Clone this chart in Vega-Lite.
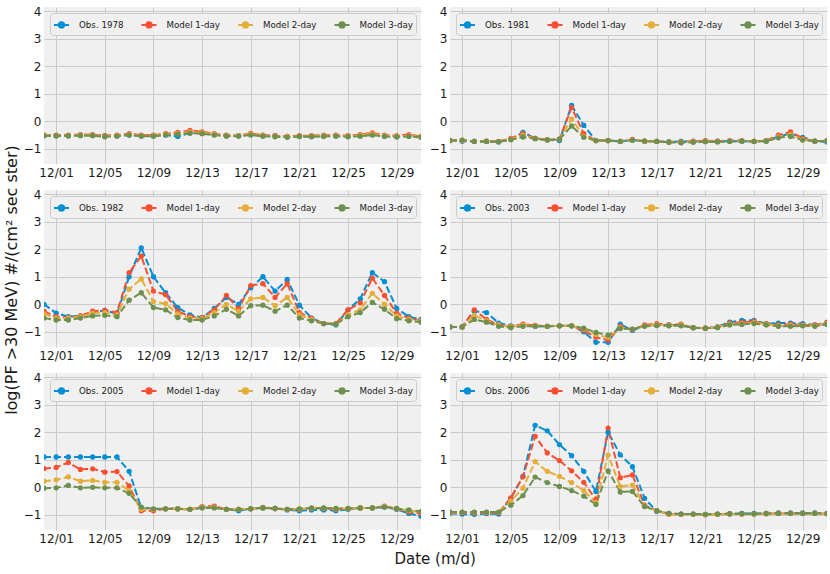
{
  "$schema": "https://vega.github.io/schema/vega-lite/v6.json",
  "background": "white",
  "padding": {"left": 4, "top": 5, "right": 3, "bottom": 5},
  "title": {"text": "log(PF >30 MeV)  #/(cm² sec ster)", "orient": "left", "anchor": "middle", "offset": 3, "fontSize": 16, "dx": 6},
  "data": {"values": [
    {"yr":1978,"date":"2000-11-30","Obs":-0.52,"Model 1-day":-0.5,"Model 2-day":-0.5,"Model 3-day":-0.52},
    {"yr":1978,"date":"2000-12-01","Obs":-0.52,"Model 1-day":-0.5,"Model 2-day":-0.52,"Model 3-day":-0.53},
    {"yr":1978,"date":"2000-12-02","Obs":-0.52,"Model 1-day":-0.5,"Model 2-day":-0.52,"Model 3-day":-0.53},
    {"yr":1978,"date":"2000-12-03","Obs":-0.5,"Model 1-day":-0.48,"Model 2-day":-0.5,"Model 3-day":-0.52},
    {"yr":1978,"date":"2000-12-04","Obs":-0.5,"Model 1-day":-0.48,"Model 2-day":-0.5,"Model 3-day":-0.52},
    {"yr":1978,"date":"2000-12-05","Obs":-0.52,"Model 1-day":-0.52,"Model 2-day":-0.54,"Model 3-day":-0.56},
    {"yr":1978,"date":"2000-12-06","Obs":-0.52,"Model 1-day":-0.5,"Model 2-day":-0.52,"Model 3-day":-0.54},
    {"yr":1978,"date":"2000-12-07","Obs":-0.5,"Model 1-day":-0.45,"Model 2-day":-0.48,"Model 3-day":-0.5},
    {"yr":1978,"date":"2000-12-08","Obs":-0.52,"Model 1-day":-0.5,"Model 2-day":-0.52,"Model 3-day":-0.54},
    {"yr":1978,"date":"2000-12-09","Obs":-0.52,"Model 1-day":-0.5,"Model 2-day":-0.52,"Model 3-day":-0.54},
    {"yr":1978,"date":"2000-12-10","Obs":-0.5,"Model 1-day":-0.45,"Model 2-day":-0.48,"Model 3-day":-0.5},
    {"yr":1978,"date":"2000-12-11","Obs":-0.55,"Model 1-day":-0.4,"Model 2-day":-0.44,"Model 3-day":-0.47},
    {"yr":1978,"date":"2000-12-12","Obs":-0.42,"Model 1-day":-0.33,"Model 2-day":-0.38,"Model 3-day":-0.43},
    {"yr":1978,"date":"2000-12-13","Obs":-0.42,"Model 1-day":-0.38,"Model 2-day":-0.42,"Model 3-day":-0.45},
    {"yr":1978,"date":"2000-12-14","Obs":-0.48,"Model 1-day":-0.45,"Model 2-day":-0.47,"Model 3-day":-0.5},
    {"yr":1978,"date":"2000-12-15","Obs":-0.52,"Model 1-day":-0.5,"Model 2-day":-0.52,"Model 3-day":-0.54},
    {"yr":1978,"date":"2000-12-16","Obs":-0.52,"Model 1-day":-0.52,"Model 2-day":-0.52,"Model 3-day":-0.54},
    {"yr":1978,"date":"2000-12-17","Obs":-0.48,"Model 1-day":-0.44,"Model 2-day":-0.47,"Model 3-day":-0.5},
    {"yr":1978,"date":"2000-12-18","Obs":-0.52,"Model 1-day":-0.5,"Model 2-day":-0.52,"Model 3-day":-0.54},
    {"yr":1978,"date":"2000-12-19","Obs":-0.52,"Model 1-day":-0.52,"Model 2-day":-0.54,"Model 3-day":-0.56},
    {"yr":1978,"date":"2000-12-20","Obs":-0.55,"Model 1-day":-0.55,"Model 2-day":-0.56,"Model 3-day":-0.58},
    {"yr":1978,"date":"2000-12-21","Obs":-0.55,"Model 1-day":-0.52,"Model 2-day":-0.54,"Model 3-day":-0.55},
    {"yr":1978,"date":"2000-12-22","Obs":-0.55,"Model 1-day":-0.52,"Model 2-day":-0.54,"Model 3-day":-0.56},
    {"yr":1978,"date":"2000-12-23","Obs":-0.52,"Model 1-day":-0.5,"Model 2-day":-0.52,"Model 3-day":-0.55},
    {"yr":1978,"date":"2000-12-24","Obs":-0.52,"Model 1-day":-0.5,"Model 2-day":-0.52,"Model 3-day":-0.54},
    {"yr":1978,"date":"2000-12-25","Obs":-0.55,"Model 1-day":-0.52,"Model 2-day":-0.54,"Model 3-day":-0.56},
    {"yr":1978,"date":"2000-12-26","Obs":-0.52,"Model 1-day":-0.48,"Model 2-day":-0.5,"Model 3-day":-0.54},
    {"yr":1978,"date":"2000-12-27","Obs":-0.48,"Model 1-day":-0.42,"Model 2-day":-0.46,"Model 3-day":-0.5},
    {"yr":1978,"date":"2000-12-28","Obs":-0.52,"Model 1-day":-0.5,"Model 2-day":-0.52,"Model 3-day":-0.55},
    {"yr":1978,"date":"2000-12-29","Obs":-0.55,"Model 1-day":-0.52,"Model 2-day":-0.54,"Model 3-day":-0.57},
    {"yr":1978,"date":"2000-12-30","Obs":-0.52,"Model 1-day":-0.48,"Model 2-day":-0.52,"Model 3-day":-0.55},
    {"yr":1978,"date":"2000-12-31","Obs":-0.55,"Model 1-day":-0.55,"Model 2-day":-0.56,"Model 3-day":-0.58},
    {"yr":1981,"date":"2000-11-30","Obs":-0.7,"Model 1-day":-0.7,"Model 2-day":-0.7,"Model 3-day":-0.7},
    {"yr":1981,"date":"2000-12-01","Obs":-0.72,"Model 1-day":-0.7,"Model 2-day":-0.69,"Model 3-day":-0.68},
    {"yr":1981,"date":"2000-12-02","Obs":-0.73,"Model 1-day":-0.73,"Model 2-day":-0.73,"Model 3-day":-0.73},
    {"yr":1981,"date":"2000-12-03","Obs":-0.73,"Model 1-day":-0.72,"Model 2-day":-0.73,"Model 3-day":-0.73},
    {"yr":1981,"date":"2000-12-04","Obs":-0.75,"Model 1-day":-0.73,"Model 2-day":-0.74,"Model 3-day":-0.74},
    {"yr":1981,"date":"2000-12-05","Obs":-0.65,"Model 1-day":-0.62,"Model 2-day":-0.65,"Model 3-day":-0.67},
    {"yr":1981,"date":"2000-12-06","Obs":-0.4,"Model 1-day":-0.45,"Model 2-day":-0.5,"Model 3-day":-0.57},
    {"yr":1981,"date":"2000-12-07","Obs":-0.62,"Model 1-day":-0.62,"Model 2-day":-0.63,"Model 3-day":-0.63},
    {"yr":1981,"date":"2000-12-08","Obs":-0.67,"Model 1-day":-0.67,"Model 2-day":-0.68,"Model 3-day":-0.68},
    {"yr":1981,"date":"2000-12-09","Obs":-0.7,"Model 1-day":-0.65,"Model 2-day":-0.65,"Model 3-day":-0.65},
    {"yr":1981,"date":"2000-12-10","Obs":0.58,"Model 1-day":0.5,"Model 2-day":0.08,"Model 3-day":-0.17},
    {"yr":1981,"date":"2000-12-11","Obs":-0.15,"Model 1-day":-0.45,"Model 2-day":-0.55,"Model 3-day":-0.58},
    {"yr":1981,"date":"2000-12-12","Obs":-0.7,"Model 1-day":-0.7,"Model 2-day":-0.7,"Model 3-day":-0.7},
    {"yr":1981,"date":"2000-12-13","Obs":-0.7,"Model 1-day":-0.7,"Model 2-day":-0.7,"Model 3-day":-0.7},
    {"yr":1981,"date":"2000-12-14","Obs":-0.73,"Model 1-day":-0.73,"Model 2-day":-0.73,"Model 3-day":-0.73},
    {"yr":1981,"date":"2000-12-15","Obs":-0.68,"Model 1-day":-0.66,"Model 2-day":-0.68,"Model 3-day":-0.69},
    {"yr":1981,"date":"2000-12-16","Obs":-0.72,"Model 1-day":-0.72,"Model 2-day":-0.72,"Model 3-day":-0.72},
    {"yr":1981,"date":"2000-12-17","Obs":-0.73,"Model 1-day":-0.73,"Model 2-day":-0.73,"Model 3-day":-0.73},
    {"yr":1981,"date":"2000-12-18","Obs":-0.75,"Model 1-day":-0.75,"Model 2-day":-0.76,"Model 3-day":-0.76},
    {"yr":1981,"date":"2000-12-19","Obs":-0.73,"Model 1-day":-0.75,"Model 2-day":-0.77,"Model 3-day":-0.78},
    {"yr":1981,"date":"2000-12-20","Obs":-0.73,"Model 1-day":-0.72,"Model 2-day":-0.74,"Model 3-day":-0.76},
    {"yr":1981,"date":"2000-12-21","Obs":-0.72,"Model 1-day":-0.7,"Model 2-day":-0.73,"Model 3-day":-0.74},
    {"yr":1981,"date":"2000-12-22","Obs":-0.72,"Model 1-day":-0.72,"Model 2-day":-0.74,"Model 3-day":-0.75},
    {"yr":1981,"date":"2000-12-23","Obs":-0.72,"Model 1-day":-0.7,"Model 2-day":-0.72,"Model 3-day":-0.73},
    {"yr":1981,"date":"2000-12-24","Obs":-0.72,"Model 1-day":-0.7,"Model 2-day":-0.72,"Model 3-day":-0.72},
    {"yr":1981,"date":"2000-12-25","Obs":-0.73,"Model 1-day":-0.73,"Model 2-day":-0.73,"Model 3-day":-0.73},
    {"yr":1981,"date":"2000-12-26","Obs":-0.72,"Model 1-day":-0.7,"Model 2-day":-0.71,"Model 3-day":-0.72},
    {"yr":1981,"date":"2000-12-27","Obs":-0.55,"Model 1-day":-0.5,"Model 2-day":-0.57,"Model 3-day":-0.6},
    {"yr":1981,"date":"2000-12-28","Obs":-0.45,"Model 1-day":-0.38,"Model 2-day":-0.48,"Model 3-day":-0.55},
    {"yr":1981,"date":"2000-12-29","Obs":-0.58,"Model 1-day":-0.62,"Model 2-day":-0.66,"Model 3-day":-0.68},
    {"yr":1981,"date":"2000-12-30","Obs":-0.72,"Model 1-day":-0.72,"Model 2-day":-0.72,"Model 3-day":-0.72},
    {"yr":1981,"date":"2000-12-31","Obs":-0.75,"Model 1-day":-0.7,"Model 2-day":-0.71,"Model 3-day":-0.71},
    {"yr":1982,"date":"2000-11-30","Obs":0.0,"Model 1-day":-0.25,"Model 2-day":-0.35,"Model 3-day":-0.5},
    {"yr":1982,"date":"2000-12-01","Obs":-0.32,"Model 1-day":-0.45,"Model 2-day":-0.5,"Model 3-day":-0.57},
    {"yr":1982,"date":"2000-12-02","Obs":-0.45,"Model 1-day":-0.48,"Model 2-day":-0.5,"Model 3-day":-0.57},
    {"yr":1982,"date":"2000-12-03","Obs":-0.42,"Model 1-day":-0.42,"Model 2-day":-0.45,"Model 3-day":-0.5},
    {"yr":1982,"date":"2000-12-04","Obs":-0.3,"Model 1-day":-0.25,"Model 2-day":-0.32,"Model 3-day":-0.42},
    {"yr":1982,"date":"2000-12-05","Obs":-0.22,"Model 1-day":-0.22,"Model 2-day":-0.3,"Model 3-day":-0.4},
    {"yr":1982,"date":"2000-12-06","Obs":-0.35,"Model 1-day":-0.3,"Model 2-day":-0.38,"Model 3-day":-0.45},
    {"yr":1982,"date":"2000-12-07","Obs":1.0,"Model 1-day":1.15,"Model 2-day":0.55,"Model 3-day":0.15},
    {"yr":1982,"date":"2000-12-08","Obs":2.05,"Model 1-day":1.75,"Model 2-day":0.92,"Model 3-day":0.42},
    {"yr":1982,"date":"2000-12-09","Obs":1.0,"Model 1-day":0.48,"Model 2-day":0.1,"Model 3-day":-0.12},
    {"yr":1982,"date":"2000-12-10","Obs":0.42,"Model 1-day":0.35,"Model 2-day":0.02,"Model 3-day":-0.2},
    {"yr":1982,"date":"2000-12-11","Obs":-0.12,"Model 1-day":-0.25,"Model 2-day":-0.35,"Model 3-day":-0.48},
    {"yr":1982,"date":"2000-12-12","Obs":-0.38,"Model 1-day":-0.45,"Model 2-day":-0.5,"Model 3-day":-0.57},
    {"yr":1982,"date":"2000-12-13","Obs":-0.48,"Model 1-day":-0.48,"Model 2-day":-0.52,"Model 3-day":-0.57},
    {"yr":1982,"date":"2000-12-14","Obs":-0.15,"Model 1-day":-0.2,"Model 2-day":-0.3,"Model 3-day":-0.42},
    {"yr":1982,"date":"2000-12-15","Obs":0.25,"Model 1-day":0.32,"Model 2-day":0.0,"Model 3-day":-0.18},
    {"yr":1982,"date":"2000-12-16","Obs":0.0,"Model 1-day":-0.15,"Model 2-day":-0.25,"Model 3-day":-0.42},
    {"yr":1982,"date":"2000-12-17","Obs":0.6,"Model 1-day":0.68,"Model 2-day":0.2,"Model 3-day":-0.05},
    {"yr":1982,"date":"2000-12-18","Obs":1.0,"Model 1-day":0.75,"Model 2-day":0.25,"Model 3-day":-0.03},
    {"yr":1982,"date":"2000-12-19","Obs":0.48,"Model 1-day":0.25,"Model 2-day":-0.05,"Model 3-day":-0.25},
    {"yr":1982,"date":"2000-12-20","Obs":0.9,"Model 1-day":0.75,"Model 2-day":0.25,"Model 3-day":-0.03},
    {"yr":1982,"date":"2000-12-21","Obs":-0.03,"Model 1-day":-0.3,"Model 2-day":-0.38,"Model 3-day":-0.5},
    {"yr":1982,"date":"2000-12-22","Obs":-0.5,"Model 1-day":-0.5,"Model 2-day":-0.55,"Model 3-day":-0.6},
    {"yr":1982,"date":"2000-12-23","Obs":-0.7,"Model 1-day":-0.7,"Model 2-day":-0.7,"Model 3-day":-0.7},
    {"yr":1982,"date":"2000-12-24","Obs":-0.75,"Model 1-day":-0.7,"Model 2-day":-0.72,"Model 3-day":-0.72},
    {"yr":1982,"date":"2000-12-25","Obs":-0.2,"Model 1-day":-0.2,"Model 2-day":-0.38,"Model 3-day":-0.45},
    {"yr":1982,"date":"2000-12-26","Obs":0.2,"Model 1-day":0.05,"Model 2-day":-0.2,"Model 3-day":-0.3},
    {"yr":1982,"date":"2000-12-27","Obs":1.15,"Model 1-day":0.95,"Model 2-day":0.4,"Model 3-day":0.07},
    {"yr":1982,"date":"2000-12-28","Obs":0.82,"Model 1-day":0.32,"Model 2-day":0.0,"Model 3-day":-0.18},
    {"yr":1982,"date":"2000-12-29","Obs":-0.15,"Model 1-day":-0.32,"Model 2-day":-0.42,"Model 3-day":-0.52},
    {"yr":1982,"date":"2000-12-30","Obs":-0.45,"Model 1-day":-0.5,"Model 2-day":-0.55,"Model 3-day":-0.6},
    {"yr":1982,"date":"2000-12-31","Obs":-0.55,"Model 1-day":-0.6,"Model 2-day":-0.62,"Model 3-day":-0.65},
    {"yr":2003,"date":"2000-11-30","Obs":-0.82,"Model 1-day":-0.82,"Model 2-day":-0.82,"Model 3-day":-0.82},
    {"yr":2003,"date":"2000-12-01","Obs":-0.82,"Model 1-day":-0.82,"Model 2-day":-0.82,"Model 3-day":-0.82},
    {"yr":2003,"date":"2000-12-02","Obs":-0.25,"Model 1-day":-0.2,"Model 2-day":-0.4,"Model 3-day":-0.55},
    {"yr":2003,"date":"2000-12-03","Obs":-0.3,"Model 1-day":-0.55,"Model 2-day":-0.6,"Model 3-day":-0.65},
    {"yr":2003,"date":"2000-12-04","Obs":-0.68,"Model 1-day":-0.75,"Model 2-day":-0.75,"Model 3-day":-0.8},
    {"yr":2003,"date":"2000-12-05","Obs":-0.78,"Model 1-day":-0.8,"Model 2-day":-0.82,"Model 3-day":-0.85},
    {"yr":2003,"date":"2000-12-06","Obs":-0.78,"Model 1-day":-0.72,"Model 2-day":-0.76,"Model 3-day":-0.8},
    {"yr":2003,"date":"2000-12-07","Obs":-0.8,"Model 1-day":-0.77,"Model 2-day":-0.78,"Model 3-day":-0.8},
    {"yr":2003,"date":"2000-12-08","Obs":-0.8,"Model 1-day":-0.8,"Model 2-day":-0.8,"Model 3-day":-0.8},
    {"yr":2003,"date":"2000-12-09","Obs":-0.78,"Model 1-day":-0.78,"Model 2-day":-0.78,"Model 3-day":-0.78},
    {"yr":2003,"date":"2000-12-10","Obs":-0.78,"Model 1-day":-0.78,"Model 2-day":-0.78,"Model 3-day":-0.78},
    {"yr":2003,"date":"2000-12-11","Obs":-1.0,"Model 1-day":-0.95,"Model 2-day":-0.9,"Model 3-day":-0.87},
    {"yr":2003,"date":"2000-12-12","Obs":-1.38,"Model 1-day":-1.2,"Model 2-day":-1.1,"Model 3-day":-1.02},
    {"yr":2003,"date":"2000-12-13","Obs":-1.38,"Model 1-day":-1.3,"Model 2-day":-1.2,"Model 3-day":-1.12},
    {"yr":2003,"date":"2000-12-14","Obs":-0.72,"Model 1-day":-0.8,"Model 2-day":-0.85,"Model 3-day":-0.88},
    {"yr":2003,"date":"2000-12-15","Obs":-0.95,"Model 1-day":-0.92,"Model 2-day":-0.9,"Model 3-day":-0.9},
    {"yr":2003,"date":"2000-12-16","Obs":-0.77,"Model 1-day":-0.75,"Model 2-day":-0.78,"Model 3-day":-0.8},
    {"yr":2003,"date":"2000-12-17","Obs":-0.75,"Model 1-day":-0.7,"Model 2-day":-0.74,"Model 3-day":-0.77},
    {"yr":2003,"date":"2000-12-18","Obs":-0.75,"Model 1-day":-0.75,"Model 2-day":-0.77,"Model 3-day":-0.78},
    {"yr":2003,"date":"2000-12-19","Obs":-0.75,"Model 1-day":-0.72,"Model 2-day":-0.75,"Model 3-day":-0.78},
    {"yr":2003,"date":"2000-12-20","Obs":-0.85,"Model 1-day":-0.85,"Model 2-day":-0.85,"Model 3-day":-0.85},
    {"yr":2003,"date":"2000-12-21","Obs":-0.87,"Model 1-day":-0.87,"Model 2-day":-0.87,"Model 3-day":-0.87},
    {"yr":2003,"date":"2000-12-22","Obs":-0.82,"Model 1-day":-0.82,"Model 2-day":-0.83,"Model 3-day":-0.85},
    {"yr":2003,"date":"2000-12-23","Obs":-0.65,"Model 1-day":-0.68,"Model 2-day":-0.72,"Model 3-day":-0.75},
    {"yr":2003,"date":"2000-12-24","Obs":-0.58,"Model 1-day":-0.65,"Model 2-day":-0.7,"Model 3-day":-0.73},
    {"yr":2003,"date":"2000-12-25","Obs":-0.58,"Model 1-day":-0.62,"Model 2-day":-0.67,"Model 3-day":-0.7},
    {"yr":2003,"date":"2000-12-26","Obs":-0.7,"Model 1-day":-0.7,"Model 2-day":-0.72,"Model 3-day":-0.75},
    {"yr":2003,"date":"2000-12-27","Obs":-0.68,"Model 1-day":-0.75,"Model 2-day":-0.78,"Model 3-day":-0.8},
    {"yr":2003,"date":"2000-12-28","Obs":-0.68,"Model 1-day":-0.72,"Model 2-day":-0.76,"Model 3-day":-0.8},
    {"yr":2003,"date":"2000-12-29","Obs":-0.7,"Model 1-day":-0.75,"Model 2-day":-0.77,"Model 3-day":-0.78},
    {"yr":2003,"date":"2000-12-30","Obs":-0.75,"Model 1-day":-0.75,"Model 2-day":-0.78,"Model 3-day":-0.8},
    {"yr":2003,"date":"2000-12-31","Obs":-0.72,"Model 1-day":-0.65,"Model 2-day":-0.7,"Model 3-day":-0.72},
    {"yr":2005,"date":"2000-11-30","Obs":1.1,"Model 1-day":0.68,"Model 2-day":0.22,"Model 3-day":-0.03},
    {"yr":2005,"date":"2000-12-01","Obs":1.1,"Model 1-day":0.72,"Model 2-day":0.27,"Model 3-day":-0.02},
    {"yr":2005,"date":"2000-12-02","Obs":1.1,"Model 1-day":0.9,"Model 2-day":0.38,"Model 3-day":0.07},
    {"yr":2005,"date":"2000-12-03","Obs":1.1,"Model 1-day":0.65,"Model 2-day":0.22,"Model 3-day":-0.02},
    {"yr":2005,"date":"2000-12-04","Obs":1.1,"Model 1-day":0.67,"Model 2-day":0.25,"Model 3-day":0.0},
    {"yr":2005,"date":"2000-12-05","Obs":1.1,"Model 1-day":0.55,"Model 2-day":0.18,"Model 3-day":-0.02},
    {"yr":2005,"date":"2000-12-06","Obs":1.1,"Model 1-day":0.57,"Model 2-day":0.18,"Model 3-day":-0.02},
    {"yr":2005,"date":"2000-12-07","Obs":0.58,"Model 1-day":0.05,"Model 2-day":-0.12,"Model 3-day":-0.22},
    {"yr":2005,"date":"2000-12-08","Obs":-0.75,"Model 1-day":-0.85,"Model 2-day":-0.8,"Model 3-day":-0.72},
    {"yr":2005,"date":"2000-12-09","Obs":-0.8,"Model 1-day":-0.85,"Model 2-day":-0.8,"Model 3-day":-0.78},
    {"yr":2005,"date":"2000-12-10","Obs":-0.78,"Model 1-day":-0.78,"Model 2-day":-0.78,"Model 3-day":-0.78},
    {"yr":2005,"date":"2000-12-11","Obs":-0.78,"Model 1-day":-0.78,"Model 2-day":-0.78,"Model 3-day":-0.78},
    {"yr":2005,"date":"2000-12-12","Obs":-0.8,"Model 1-day":-0.8,"Model 2-day":-0.8,"Model 3-day":-0.8},
    {"yr":2005,"date":"2000-12-13","Obs":-0.72,"Model 1-day":-0.7,"Model 2-day":-0.72,"Model 3-day":-0.75},
    {"yr":2005,"date":"2000-12-14","Obs":-0.72,"Model 1-day":-0.68,"Model 2-day":-0.72,"Model 3-day":-0.75},
    {"yr":2005,"date":"2000-12-15","Obs":-0.8,"Model 1-day":-0.8,"Model 2-day":-0.8,"Model 3-day":-0.8},
    {"yr":2005,"date":"2000-12-16","Obs":-0.85,"Model 1-day":-0.8,"Model 2-day":-0.8,"Model 3-day":-0.8},
    {"yr":2005,"date":"2000-12-17","Obs":-0.78,"Model 1-day":-0.78,"Model 2-day":-0.78,"Model 3-day":-0.78},
    {"yr":2005,"date":"2000-12-18","Obs":-0.75,"Model 1-day":-0.73,"Model 2-day":-0.75,"Model 3-day":-0.75},
    {"yr":2005,"date":"2000-12-19","Obs":-0.77,"Model 1-day":-0.77,"Model 2-day":-0.77,"Model 3-day":-0.77},
    {"yr":2005,"date":"2000-12-20","Obs":-0.82,"Model 1-day":-0.8,"Model 2-day":-0.8,"Model 3-day":-0.8},
    {"yr":2005,"date":"2000-12-21","Obs":-0.85,"Model 1-day":-0.8,"Model 2-day":-0.79,"Model 3-day":-0.78},
    {"yr":2005,"date":"2000-12-22","Obs":-0.82,"Model 1-day":-0.77,"Model 2-day":-0.76,"Model 3-day":-0.75},
    {"yr":2005,"date":"2000-12-23","Obs":-0.82,"Model 1-day":-0.77,"Model 2-day":-0.76,"Model 3-day":-0.75},
    {"yr":2005,"date":"2000-12-24","Obs":-0.85,"Model 1-day":-0.8,"Model 2-day":-0.78,"Model 3-day":-0.77},
    {"yr":2005,"date":"2000-12-25","Obs":-0.8,"Model 1-day":-0.78,"Model 2-day":-0.77,"Model 3-day":-0.77},
    {"yr":2005,"date":"2000-12-26","Obs":-0.75,"Model 1-day":-0.75,"Model 2-day":-0.75,"Model 3-day":-0.75},
    {"yr":2005,"date":"2000-12-27","Obs":-0.75,"Model 1-day":-0.75,"Model 2-day":-0.75,"Model 3-day":-0.75},
    {"yr":2005,"date":"2000-12-28","Obs":-0.72,"Model 1-day":-0.68,"Model 2-day":-0.7,"Model 3-day":-0.72},
    {"yr":2005,"date":"2000-12-29","Obs":-0.8,"Model 1-day":-0.78,"Model 2-day":-0.77,"Model 3-day":-0.77},
    {"yr":2005,"date":"2000-12-30","Obs":-0.95,"Model 1-day":-0.9,"Model 2-day":-0.85,"Model 3-day":-0.82},
    {"yr":2005,"date":"2000-12-31","Obs":-1.05,"Model 1-day":-0.95,"Model 2-day":-0.9,"Model 3-day":-0.88},
    {"yr":2006,"date":"2000-11-30","Obs":-0.95,"Model 1-day":-0.93,"Model 2-day":-0.92,"Model 3-day":-0.9},
    {"yr":2006,"date":"2000-12-01","Obs":-0.97,"Model 1-day":-0.92,"Model 2-day":-0.91,"Model 3-day":-0.9},
    {"yr":2006,"date":"2000-12-02","Obs":-0.98,"Model 1-day":-0.93,"Model 2-day":-0.91,"Model 3-day":-0.9},
    {"yr":2006,"date":"2000-12-03","Obs":-0.95,"Model 1-day":-0.92,"Model 2-day":-0.91,"Model 3-day":-0.9},
    {"yr":2006,"date":"2000-12-04","Obs":-0.97,"Model 1-day":-0.92,"Model 2-day":-0.91,"Model 3-day":-0.9},
    {"yr":2006,"date":"2000-12-05","Obs":-0.4,"Model 1-day":-0.38,"Model 2-day":-0.5,"Model 3-day":-0.65},
    {"yr":2006,"date":"2000-12-06","Obs":0.4,"Model 1-day":0.38,"Model 2-day":-0.03,"Model 3-day":-0.3},
    {"yr":2006,"date":"2000-12-07","Obs":2.25,"Model 1-day":1.85,"Model 2-day":0.93,"Model 3-day":0.37},
    {"yr":2006,"date":"2000-12-08","Obs":2.05,"Model 1-day":1.25,"Model 2-day":0.58,"Model 3-day":0.17},
    {"yr":2006,"date":"2000-12-09","Obs":1.55,"Model 1-day":0.97,"Model 2-day":0.4,"Model 3-day":0.03},
    {"yr":2006,"date":"2000-12-10","Obs":1.15,"Model 1-day":0.6,"Model 2-day":0.17,"Model 3-day":-0.12},
    {"yr":2006,"date":"2000-12-11","Obs":0.58,"Model 1-day":0.18,"Model 2-day":-0.12,"Model 3-day":-0.32},
    {"yr":2006,"date":"2000-12-12","Obs":-0.15,"Model 1-day":-0.45,"Model 2-day":-0.55,"Model 3-day":-0.62},
    {"yr":2006,"date":"2000-12-13","Obs":2.0,"Model 1-day":2.15,"Model 2-day":1.17,"Model 3-day":0.6},
    {"yr":2006,"date":"2000-12-14","Obs":1.18,"Model 1-day":0.35,"Model 2-day":0.03,"Model 3-day":-0.17},
    {"yr":2006,"date":"2000-12-15","Obs":0.75,"Model 1-day":0.45,"Model 2-day":0.08,"Model 3-day":-0.15},
    {"yr":2006,"date":"2000-12-16","Obs":-0.4,"Model 1-day":-0.65,"Model 2-day":-0.68,"Model 3-day":-0.7},
    {"yr":2006,"date":"2000-12-17","Obs":-0.87,"Model 1-day":-0.85,"Model 2-day":-0.85,"Model 3-day":-0.85},
    {"yr":2006,"date":"2000-12-18","Obs":-0.95,"Model 1-day":-0.98,"Model 2-day":-0.97,"Model 3-day":-0.95},
    {"yr":2006,"date":"2000-12-19","Obs":-0.97,"Model 1-day":-0.98,"Model 2-day":-0.98,"Model 3-day":-0.97},
    {"yr":2006,"date":"2000-12-20","Obs":-0.97,"Model 1-day":-0.98,"Model 2-day":-0.98,"Model 3-day":-0.97},
    {"yr":2006,"date":"2000-12-21","Obs":-0.98,"Model 1-day":-1.0,"Model 2-day":-0.99,"Model 3-day":-0.98},
    {"yr":2006,"date":"2000-12-22","Obs":-0.97,"Model 1-day":-0.98,"Model 2-day":-0.98,"Model 3-day":-0.97},
    {"yr":2006,"date":"2000-12-23","Obs":-0.96,"Model 1-day":-0.97,"Model 2-day":-0.97,"Model 3-day":-0.96},
    {"yr":2006,"date":"2000-12-24","Obs":-0.95,"Model 1-day":-0.97,"Model 2-day":-0.97,"Model 3-day":-0.96},
    {"yr":2006,"date":"2000-12-25","Obs":-0.95,"Model 1-day":-0.97,"Model 2-day":-0.97,"Model 3-day":-0.96},
    {"yr":2006,"date":"2000-12-26","Obs":-0.95,"Model 1-day":-0.96,"Model 2-day":-0.96,"Model 3-day":-0.95},
    {"yr":2006,"date":"2000-12-27","Obs":-0.93,"Model 1-day":-0.95,"Model 2-day":-0.95,"Model 3-day":-0.95},
    {"yr":2006,"date":"2000-12-28","Obs":-0.93,"Model 1-day":-0.95,"Model 2-day":-0.95,"Model 3-day":-0.95},
    {"yr":2006,"date":"2000-12-29","Obs":-0.93,"Model 1-day":-0.95,"Model 2-day":-0.95,"Model 3-day":-0.95},
    {"yr":2006,"date":"2000-12-30","Obs":-0.93,"Model 1-day":-0.95,"Model 2-day":-0.95,"Model 3-day":-0.95},
    {"yr":2006,"date":"2000-12-31","Obs":-0.95,"Model 1-day":-0.96,"Model 2-day":-0.96,"Model 3-day":-0.95}
  ]},
  "transform": [
    {"fold": ["Obs", "Model 1-day", "Model 2-day", "Model 3-day"], "as": ["series", "v"]}
  ],
  "spacing": 10,
  "vconcat": [
    {
      "spacing": 8,
      "resolve": {"legend": {"color": "independent"}},
      "hconcat": [
        {
          "width": 377, "height": 157,
          "transform": [{"filter": "datum.yr == 1978"}],
          "encoding": {
            "x": {"field": "date", "type": "temporal", "title": null,
              "scale": {"type": "utc", "domain": [{"year": 2000, "month": 11, "date": 30, "utc": true}, {"year": 2000, "month": 12, "date": 31, "utc": true}]},
              "axis": {"format": "%m/%d", "values": [{"year": 2000, "month": 12, "date": 1, "utc": true}, {"year": 2000, "month": 12, "date": 5, "utc": true}, {"year": 2000, "month": 12, "date": 9, "utc": true}, {"year": 2000, "month": 12, "date": 13, "utc": true}, {"year": 2000, "month": 12, "date": 17, "utc": true}, {"year": 2000, "month": 12, "date": 21, "utc": true}, {"year": 2000, "month": 12, "date": 25, "utc": true}, {"year": 2000, "month": 12, "date": 29, "utc": true}]}},
            "y": {"field": "v", "type": "quantitative", "title": null, "scale": {"domain": [-1.55, 4.15], "nice": false, "zero": false}, "axis": {"values": [-1, 0, 1, 2, 3, 4]}},
            "color": {"field": "series", "type": "nominal", "scale": {"domain": ["Obs", "Model 1-day", "Model 2-day", "Model 3-day"], "range": ["#008fd5", "#fc4f30", "#e5ae38", "#6d904f"]},
              "legend": {"title": null, "labelExpr": "datum.label == 'Obs' ? 'Obs. 1978' : datum.label"}}
          },
          "layer": [
            {"mark": {"type": "line", "strokeDash": [7, 3], "strokeWidth": 2, "clip": true}},
            {"mark": {"type": "point", "filled": true, "size": 28, "opacity": 1, "clip": true}}
          ]
        },
        {
          "width": 377, "height": 157,
          "transform": [{"filter": "datum.yr == 1981"}],
          "encoding": {
            "x": {"field": "date", "type": "temporal", "title": null,
              "scale": {"type": "utc", "domain": [{"year": 2000, "month": 11, "date": 30, "utc": true}, {"year": 2000, "month": 12, "date": 31, "utc": true}]},
              "axis": {"format": "%m/%d", "values": [{"year": 2000, "month": 12, "date": 1, "utc": true}, {"year": 2000, "month": 12, "date": 5, "utc": true}, {"year": 2000, "month": 12, "date": 9, "utc": true}, {"year": 2000, "month": 12, "date": 13, "utc": true}, {"year": 2000, "month": 12, "date": 17, "utc": true}, {"year": 2000, "month": 12, "date": 21, "utc": true}, {"year": 2000, "month": 12, "date": 25, "utc": true}, {"year": 2000, "month": 12, "date": 29, "utc": true}]}},
            "y": {"field": "v", "type": "quantitative", "title": null, "scale": {"domain": [-1.55, 4.15], "nice": false, "zero": false}, "axis": {"values": [-1, 0, 1, 2, 3, 4]}},
            "color": {"field": "series", "type": "nominal", "scale": {"domain": ["Obs", "Model 1-day", "Model 2-day", "Model 3-day"], "range": ["#008fd5", "#fc4f30", "#e5ae38", "#6d904f"]},
              "legend": {"title": null, "labelExpr": "datum.label == 'Obs' ? 'Obs. 1981' : datum.label"}}
          },
          "layer": [
            {"mark": {"type": "line", "strokeDash": [7, 3], "strokeWidth": 2, "clip": true}},
            {"mark": {"type": "point", "filled": true, "size": 28, "opacity": 1, "clip": true}}
          ]
        }
      ]
    },
    {
      "spacing": 8,
      "resolve": {"legend": {"color": "independent"}},
      "hconcat": [
        {
          "width": 377, "height": 157,
          "transform": [{"filter": "datum.yr == 1982"}],
          "encoding": {
            "x": {"field": "date", "type": "temporal", "title": null,
              "scale": {"type": "utc", "domain": [{"year": 2000, "month": 11, "date": 30, "utc": true}, {"year": 2000, "month": 12, "date": 31, "utc": true}]},
              "axis": {"format": "%m/%d", "values": [{"year": 2000, "month": 12, "date": 1, "utc": true}, {"year": 2000, "month": 12, "date": 5, "utc": true}, {"year": 2000, "month": 12, "date": 9, "utc": true}, {"year": 2000, "month": 12, "date": 13, "utc": true}, {"year": 2000, "month": 12, "date": 17, "utc": true}, {"year": 2000, "month": 12, "date": 21, "utc": true}, {"year": 2000, "month": 12, "date": 25, "utc": true}, {"year": 2000, "month": 12, "date": 29, "utc": true}]}},
            "y": {"field": "v", "type": "quantitative", "title": null, "scale": {"domain": [-1.55, 4.15], "nice": false, "zero": false}, "axis": {"values": [-1, 0, 1, 2, 3, 4]}},
            "color": {"field": "series", "type": "nominal", "scale": {"domain": ["Obs", "Model 1-day", "Model 2-day", "Model 3-day"], "range": ["#008fd5", "#fc4f30", "#e5ae38", "#6d904f"]},
              "legend": {"title": null, "labelExpr": "datum.label == 'Obs' ? 'Obs. 1982' : datum.label"}}
          },
          "layer": [
            {"mark": {"type": "line", "strokeDash": [7, 3], "strokeWidth": 2, "clip": true}},
            {"mark": {"type": "point", "filled": true, "size": 28, "opacity": 1, "clip": true}}
          ]
        },
        {
          "width": 377, "height": 157,
          "transform": [{"filter": "datum.yr == 2003"}],
          "encoding": {
            "x": {"field": "date", "type": "temporal", "title": null,
              "scale": {"type": "utc", "domain": [{"year": 2000, "month": 11, "date": 30, "utc": true}, {"year": 2000, "month": 12, "date": 31, "utc": true}]},
              "axis": {"format": "%m/%d", "values": [{"year": 2000, "month": 12, "date": 1, "utc": true}, {"year": 2000, "month": 12, "date": 5, "utc": true}, {"year": 2000, "month": 12, "date": 9, "utc": true}, {"year": 2000, "month": 12, "date": 13, "utc": true}, {"year": 2000, "month": 12, "date": 17, "utc": true}, {"year": 2000, "month": 12, "date": 21, "utc": true}, {"year": 2000, "month": 12, "date": 25, "utc": true}, {"year": 2000, "month": 12, "date": 29, "utc": true}]}},
            "y": {"field": "v", "type": "quantitative", "title": null, "scale": {"domain": [-1.55, 4.15], "nice": false, "zero": false}, "axis": {"values": [-1, 0, 1, 2, 3, 4]}},
            "color": {"field": "series", "type": "nominal", "scale": {"domain": ["Obs", "Model 1-day", "Model 2-day", "Model 3-day"], "range": ["#008fd5", "#fc4f30", "#e5ae38", "#6d904f"]},
              "legend": {"title": null, "labelExpr": "datum.label == 'Obs' ? 'Obs. 2003' : datum.label"}}
          },
          "layer": [
            {"mark": {"type": "line", "strokeDash": [7, 3], "strokeWidth": 2, "clip": true}},
            {"mark": {"type": "point", "filled": true, "size": 28, "opacity": 1, "clip": true}}
          ]
        }
      ]
    },
    {
      "spacing": 8,
      "resolve": {"legend": {"color": "independent"}},
      "title": {"text": "Date (m/d)", "orient": "bottom", "anchor": "middle", "offset": 8, "dx": 10},
      "hconcat": [
        {
          "width": 377, "height": 157,
          "transform": [{"filter": "datum.yr == 2005"}],
          "encoding": {
            "x": {"field": "date", "type": "temporal", "title": null,
              "scale": {"type": "utc", "domain": [{"year": 2000, "month": 11, "date": 30, "utc": true}, {"year": 2000, "month": 12, "date": 31, "utc": true}]},
              "axis": {"format": "%m/%d", "values": [{"year": 2000, "month": 12, "date": 1, "utc": true}, {"year": 2000, "month": 12, "date": 5, "utc": true}, {"year": 2000, "month": 12, "date": 9, "utc": true}, {"year": 2000, "month": 12, "date": 13, "utc": true}, {"year": 2000, "month": 12, "date": 17, "utc": true}, {"year": 2000, "month": 12, "date": 21, "utc": true}, {"year": 2000, "month": 12, "date": 25, "utc": true}, {"year": 2000, "month": 12, "date": 29, "utc": true}]}},
            "y": {"field": "v", "type": "quantitative", "title": null, "scale": {"domain": [-1.55, 4.15], "nice": false, "zero": false}, "axis": {"values": [-1, 0, 1, 2, 3, 4]}},
            "color": {"field": "series", "type": "nominal", "scale": {"domain": ["Obs", "Model 1-day", "Model 2-day", "Model 3-day"], "range": ["#008fd5", "#fc4f30", "#e5ae38", "#6d904f"]},
              "legend": {"title": null, "labelExpr": "datum.label == 'Obs' ? 'Obs. 2005' : datum.label"}}
          },
          "layer": [
            {"mark": {"type": "line", "strokeDash": [7, 3], "strokeWidth": 2, "clip": true}},
            {"mark": {"type": "point", "filled": true, "size": 28, "opacity": 1, "clip": true}}
          ]
        },
        {
          "width": 377, "height": 157,
          "transform": [{"filter": "datum.yr == 2006"}],
          "encoding": {
            "x": {"field": "date", "type": "temporal", "title": null,
              "scale": {"type": "utc", "domain": [{"year": 2000, "month": 11, "date": 30, "utc": true}, {"year": 2000, "month": 12, "date": 31, "utc": true}]},
              "axis": {"format": "%m/%d", "values": [{"year": 2000, "month": 12, "date": 1, "utc": true}, {"year": 2000, "month": 12, "date": 5, "utc": true}, {"year": 2000, "month": 12, "date": 9, "utc": true}, {"year": 2000, "month": 12, "date": 13, "utc": true}, {"year": 2000, "month": 12, "date": 17, "utc": true}, {"year": 2000, "month": 12, "date": 21, "utc": true}, {"year": 2000, "month": 12, "date": 25, "utc": true}, {"year": 2000, "month": 12, "date": 29, "utc": true}]}},
            "y": {"field": "v", "type": "quantitative", "title": null, "scale": {"domain": [-1.55, 4.15], "nice": false, "zero": false}, "axis": {"values": [-1, 0, 1, 2, 3, 4]}},
            "color": {"field": "series", "type": "nominal", "scale": {"domain": ["Obs", "Model 1-day", "Model 2-day", "Model 3-day"], "range": ["#008fd5", "#fc4f30", "#e5ae38", "#6d904f"]},
              "legend": {"title": null, "labelExpr": "datum.label == 'Obs' ? 'Obs. 2006' : datum.label"}}
          },
          "layer": [
            {"mark": {"type": "line", "strokeDash": [7, 3], "strokeWidth": 2, "clip": true}},
            {"mark": {"type": "point", "filled": true, "size": 28, "opacity": 1, "clip": true}}
          ]
        }
      ]
    }
  ],
  "resolve": {"legend": {"color": "independent"}},
  "config": {
    "font": "DejaVu Sans",
    "view": {"fill": "#f0f0f0", "stroke": null},
    "axis": {"domain": false, "ticks": false, "grid": true, "gridColor": "#cbcbcb", "gridWidth": 1, "labelFont": "DejaVu Sans", "labelFontSize": 12, "labelColor": "#1a1a1a", "labelPadding": 3},
    "title": {"font": "DejaVu Sans", "fontSize": 15, "fontWeight": "normal", "color": "#1a1a1a"},
    "legend": {
      "orient": "top-left", "direction": "horizontal", "offset": 6, "padding": 3,
      "fillColor": "#f0f0f0", "strokeColor": "#cccccc", "cornerRadius": 3,
      "labelFont": "DejaVu Sans", "labelFontSize": 8.7, "labelColor": "#1a1a1a", "labelOffset": 9,
      "columnPadding": 13.5,
      "symbolType": "M-1,0H1M0.35,0A0.35,0.35,0,1,1,-0.35,0A0.35,0.35,0,1,1,0.35,0Z",
      "symbolSize": 225, "symbolStrokeWidth": 2, "symbolOpacity": 1,
      "symbolDash": []
    }
  }
}
